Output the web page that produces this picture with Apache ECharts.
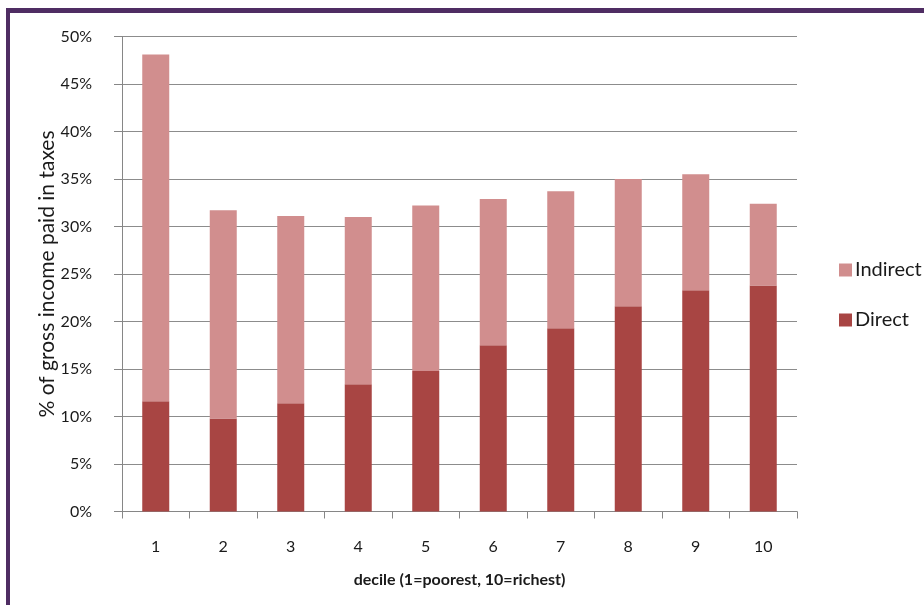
<!DOCTYPE html>
<html>
<head>
<meta charset="utf-8">
<script src="https://cdn.jsdelivr.net/npm/echarts@6/dist/echarts.min.js"></script>
<style>
html,body{margin:0;padding:0;background:#fff;}
#c{width:924px;height:605px;}
</style>
</head>
<body>
<div id="c"></div>
<script>
const categories = ['1','2','3','4','5','6','7','8','9','10'];
const directValues = [11.6, 9.8, 11.4, 13.4, 14.8, 17.5, 19.3, 21.6, 23.3, 23.8];
const totalValues = [48.1, 31.7, 31.1, 31.0, 32.2, 32.9, 33.7, 35.0, 35.5, 32.4];
const indirectValues = totalValues.map((t, i) => +(t - directValues[i]).toFixed(1));
const yTicks = [0, 5, 10, 15, 20, 25, 30, 35, 40, 45, 50];

const FONT = 'Lato';
const chart = echarts.init(document.getElementById('c'));
chart.setOption({
  animation: false,
  backgroundColor: '#ffffff',
  textStyle: { fontFamily: FONT },
  graphic: [
    { type: 'rect', shape: { x: 6, y: 8, width: 918, height: 5 }, style: { fill: '#4f2d63' }, z: 100 },
    { type: 'rect', shape: { x: 6, y: 8, width: 4, height: 597 }, style: { fill: '#4f2d63' }, z: 100 }
  ],
  grid: { left: 122, right: 127, top: 36.5, bottom: 93.5 },
  legend: {
    orient: 'vertical',
    left: 834,
    top: 255,
    itemWidth: 13,
    itemHeight: 13,
    itemGap: 30,
    data: ['Indirect', 'Direct'],
    textStyle: { fontFamily: FONT, fontSize: 20, lineHeight: 20, color: '#1a1a1a', padding: [0, 0, 0, -2] },
    icon: 'rect'
  },
  xAxis: {
    type: 'category',
    data: categories,
    name: 'decile (1=poorest, 10=richest)',
    nameLocation: 'middle',
    nameGap: 60,
    nameMoveOverlap: false,
    nameTextStyle: { fontFamily: FONT, fontSize: 16, fontWeight: 'bold', color: '#1a1a1a' },
    axisLine: { lineStyle: { color: '#868686', width: 1 } },
    axisTick: { show: true, length: 7, alignWithLabel: false, lineStyle: { color: '#868686' } },
    axisLabel: { fontFamily: FONT, fontSize: 16, color: '#1a1a1a', margin: 27 }
  },
  yAxis: {
    type: 'value',
    min: 0,
    max: 50,
    interval: 5,
    name: '% of gross income paid in taxes',
    nameLocation: 'middle',
    nameGap: 64,
    nameMoveOverlap: false,
    nameTextStyle: { fontFamily: FONT, fontSize: 21, color: '#1a1a1a' },
    axisLine: { show: true, lineStyle: { color: '#868686', width: 1 } },
    axisTick: { show: true, length: 8, lineStyle: { color: '#868686' } },
    axisLabel: {
      fontFamily: FONT, fontSize: 16, color: '#1a1a1a', margin: 30,
      formatter: v => yTicks.includes(v) ? v + '%' : ''
    },
    splitLine: { show: true, lineStyle: { color: '#8c8c8c', width: 1.2 } }
  },
  series: [
    {
      name: 'Direct',
      type: 'bar',
      stack: 'tax',
      barWidth: '40%',
      data: directValues,
      itemStyle: { color: '#a84543' }
    },
    {
      name: 'Indirect',
      type: 'bar',
      stack: 'tax',
      barWidth: '40%',
      data: indirectValues,
      itemStyle: { color: '#d18e8e' }
    }
  ]
});
</script>
</body>
</html>
